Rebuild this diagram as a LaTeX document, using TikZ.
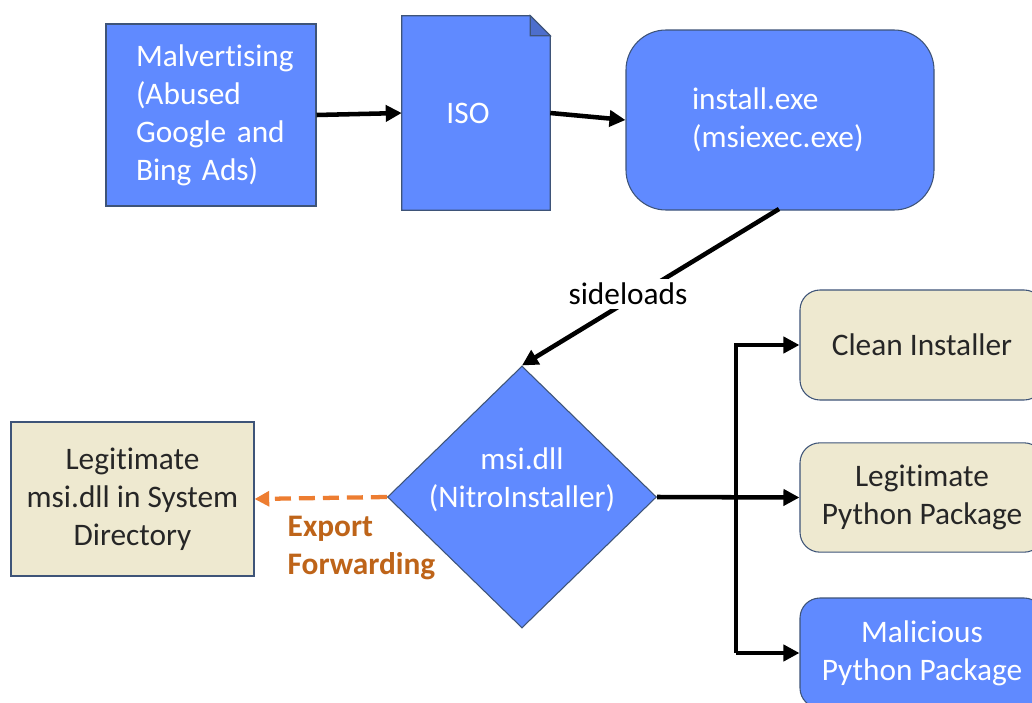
\documentclass[tikz,border=0pt]{standalone}
\usepackage{fontspec}
\setmainfont{Carlito}[Ligatures=NoCommon]
\usetikzlibrary{shapes.geometric,arrows.meta}
\definecolor{bluefill}{RGB}{96,138,255}
\definecolor{beige}{RGB}{238,233,208}
\definecolor{edge}{RGB}{62,84,120}
\definecolor{dashorange}{RGB}{237,125,49}
\definecolor{brownlbl}{RGB}{190,100,25}
\begin{document}
\begin{tikzpicture}[x=0.75pt,y=-0.75pt,
  every node/.style={font=\fontsize{23.5pt}{28.5pt}\selectfont},
  bluebox/.style={draw=edge,line width=0.8pt,fill=bluefill,text=white,inner sep=0pt},
  beigebox/.style={draw=edge,line width=0.8pt,fill=beige,text=black!85,inner sep=0pt,align=center},
  conn/.style={line width=3.4pt,black},
  arr/.style={conn,-{Triangle[length=12pt,width=12pt]}},
  darr/.style={line width=3.2pt,dashorange,dash pattern=on 12pt off 6pt,-{Triangle[length=11pt,width=11pt]}}
]
\clip (0,0) rectangle (1032,703);
\fill[white] (0,0) rectangle (1032,703);

% top row
\node[bluebox,rectangle,minimum width=157.5pt,minimum height=136.5pt,
      text width=112.5pt,align=left] (malv) at (211,115)
      {\raisebox{-3pt}{}Malvertising\\(Abused\\Google and\\Bing Ads)};
\node[minimum width=111pt,minimum height=145.5pt,inner sep=0pt] (iso) at (476,113) {};
\fill[bluefill,draw=edge,line width=0.8pt]
  (iso.north west) -- ([xshift=-15pt]iso.north east) -- ([yshift=-15pt]iso.north east)
  -- (iso.south east) -- (iso.south west) -- cycle;
\fill[bluefill!80!black,draw=edge,line width=0.8pt]
  ([xshift=-15pt]iso.north east) -- ([xshift=-15pt,yshift=-15pt]iso.north east)
  -- ([yshift=-15pt]iso.north east) -- cycle;
\node[text=white] (isotxt) at (468,113) {ISO};
\node[bluebox,rectangle,rounded corners=30pt,minimum width=231pt,minimum height=135pt,
      text width=132pt,align=left] (inst) at (780,120)
      {install.exe\\(msiexec.exe)};

\draw[arr] (malv.east) -- (iso.west);
\draw[arr] (iso.east) -- (inst.west);

% diamond
\node[bluebox,diamond,minimum width=201.75pt,minimum height=196.5pt] (dia) at (522,497) {};
\node[text=white,align=center] (diatxt) at (522,480) {msi.dll\\(NitroInstaller)};

\coordinate (instout) at (779,209);
\draw[arr] (instout) -- (dia.north);
\node[fill=white,inner sep=3pt] (side) at (628,294) {sideloads};

% left box
\node[beigebox,rectangle,minimum width=182.25pt,minimum height=115.5pt] (legit) at (132.5,499)
  {Legitimate\\msi.dll in System\\Directory};
\draw[darr] (dia.west) -- (legit.east);
\node[anchor=west,align=left,text=brownlbl,font=\fontsize{23.5pt}{28.5pt}\selectfont\bfseries]
  (exp) at (283,548) {Export\\Forwarding};

% right boxes
\node[beigebox,rectangle,rounded corners=15pt,minimum width=183pt,minimum height=82.5pt] (clean) at (922,345) {Clean Installer};
\node[beigebox,rectangle,rounded corners=15pt,minimum width=183pt,minimum height=82pt] (legp) at (922,497.5) {Legitimate\\Python Package};
\node[bluebox,rectangle,rounded corners=15pt,minimum width=183pt,minimum height=82.5pt,align=center] (mal) at (922,653) {Malicious\\Python Package};

\coordinate (trunk) at (736,497);
\draw[arr] (dia.east) -- (legp.west);
\draw[arr] (mal.west -| trunk) -- (clean.west -| trunk) -- (clean.west);
\draw[arr] (mal.west -| trunk) -- (mal.west);
\end{tikzpicture}
\end{document}
